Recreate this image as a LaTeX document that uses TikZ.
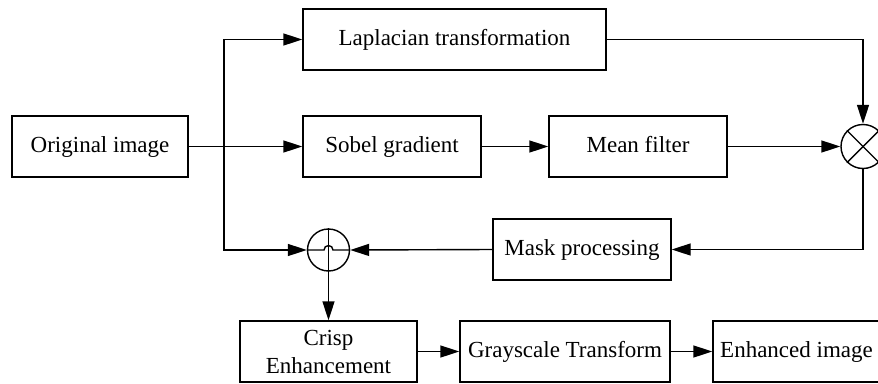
\documentclass[tikz,border=0pt]{standalone}
\usepackage{fontspec}
\setmainfont{Liberation Serif}
\usetikzlibrary{arrows.meta,calc}
\begin{document}
\begin{tikzpicture}[x=1pt,y=-1pt,
  box/.style={draw,line width=1.4pt,rectangle,minimum height=61pt,inner sep=0pt,align=center,
    font=\fontsize{23}{28}\selectfont},
  one/.style={text height=16pt,text depth=5pt},
  junc/.style={draw,line width=1.4pt,circle,inner sep=0pt},
  ln/.style={line width=1.4pt},
  arr/.style={ln,-{Triangle[length=19pt,width=12pt]}}]
\useasboundingbox (0,0) rectangle (878,383);
\clip (0,0) rectangle (878,383);
\node[box,one,minimum width=176pt] (orig) at (100,146.5) {Original image};
\node[box,one,minimum width=303pt] (lap) at (454.5,39.5) {Laplacian transformation};
\node[box,one,minimum width=178pt] (sobel) at (392,146.5) {Sobel gradient};
\node[box,one,minimum width=178pt] (mean) at (638,146.5) {Mean filter};
\node[junc,minimum size=44pt] (mult) at (863,146.5) {};
\node[box,one,minimum width=178pt] (mask) at (582,249.5) {Mask processing};
\node[junc,minimum size=42pt] (sum) at (328.5,250) {};
\node[box,minimum width=177pt] (crisp) at (328.5,351.5) {Crisp\\Enhancement};
\node[box,one,minimum width=210pt] (gray) at (565,351.5) {Grayscale Transform};
\node[box,one,minimum width=167pt] (enh) at (796.5,351.5) {Enhanced image};
\coordinate (split) at (224,146.5);
% cross in multiplier
\draw[ln] (mult.north west) -- (mult.south east);
\draw[ln] (mult.north east) -- (mult.south west);
% connectors
\draw[arr] (orig.east) -- (sobel.west);
\draw[arr] (split) |- (lap.west);
\draw[arr] (split) |- (sum.west);
\draw[arr] (sobel.east) -- (mean.west);
\draw[arr] (lap.east) -| (mult.north);
\draw[arr] (mean.east) -- (mult.west);
\draw[arr] (mult.south) |- (mask.east);
\draw[arr] (mask.west) -- (sum.east);
\draw[arr] (sum.north) -- (crisp.north);
\draw[ln] (sum.west) -- ($(sum.center)+(-4.5,0)$) arc[start angle=180,end angle=360,radius=4.5] -- (sum.east);
\draw[arr] (crisp.east) -- (gray.west);
\draw[arr] (gray.east) -- (enh.west);
\end{tikzpicture}
\end{document}
